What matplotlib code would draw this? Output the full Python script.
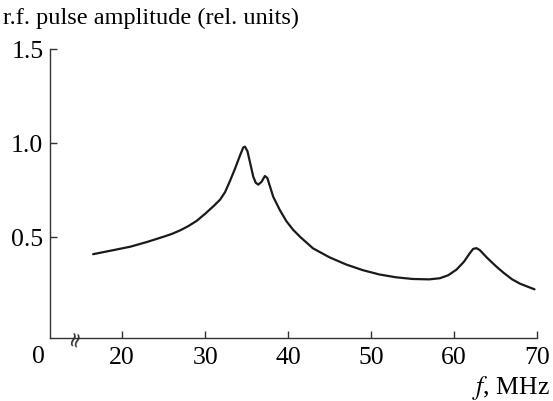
import matplotlib
matplotlib.use("Agg")
import matplotlib.pyplot as plt

# Pulse amplitude spectrum
freq_mhz = [16.5, 19, 21, 23, 25, 26, 27, 28, 29, 30, 31, 31.8, 32.4, 33, 33.6,
            34.2, 34.6, 34.8, 35.1, 35.4, 35.8, 36.1, 36.4, 36.8, 37.2, 37.5,
            38.2, 39, 39.8, 40.6, 41.5, 43, 45, 47, 49, 51, 53, 55, 57, 58.3,
            59.3, 60.3, 61.2, 61.9, 62.3, 62.7, 63.1, 64, 65, 66, 67, 68, 69.7]
amplitude = [0.41, 0.432, 0.45, 0.475, 0.503, 0.518, 0.537, 0.56, 0.588, 0.625,
             0.665, 0.70, 0.74, 0.8, 0.865, 0.935, 0.978, 0.982, 0.958, 0.9,
             0.822, 0.79, 0.78, 0.795, 0.826, 0.815, 0.716, 0.645, 0.585, 0.54,
             0.5, 0.441, 0.393, 0.355, 0.325, 0.302, 0.287, 0.278, 0.276,
             0.282, 0.298, 0.328, 0.37, 0.415, 0.438, 0.442, 0.432, 0.39,
             0.348, 0.31, 0.276, 0.252, 0.223]

x_ticks = [20, 30, 40, 50, 60, 70]
y_ticks = [0.5, 1.0, 1.5]
y_tick_labels = ["0.5", "1.0", "1.5"]

plt.rcParams["font.family"] = ["Liberation Serif", "DejaVu Serif"]
plt.rcParams["mathtext.fontset"] = "stix"

fig = plt.figure(figsize=(5.53, 4.01), dpi=100)
ax = fig.add_axes([50 / 553, 63 / 401, 487 / 553, 288.7 / 401])

ax.plot(freq_mhz, amplitude, color="#1a1a1a", lw=1.6, solid_capstyle="round")

ax.set_xlim(11.3, 70)
ax.set_ylim(-0.036, 1.5)
for side in ("top", "right"):
    ax.spines[side].set_visible(False)
for side in ("left", "bottom"):
    ax.spines[side].set_linewidth(1.0)
    ax.spines[side].set_color("#333333")

ax.set_xticks(x_ticks)
ax.set_xticklabels([str(v) for v in x_ticks])
ax.set_yticks(y_ticks)
ax.set_yticklabels(y_tick_labels)
ax.tick_params(direction="in", length=5, width=1.0, color="#333333",
               labelsize=18.5)
ax.tick_params(axis="y", pad=4.8)
ax.tick_params(axis="x", pad=6.5)

# origin label and axis break
ax.text(-12 / 487, -19 / 288.7, "0", transform=ax.transAxes, fontsize=18.5,
        ha="center", va="center")
ax.text(25 / 487, 0.0, "≈", transform=ax.transAxes, fontsize=15,
        ha="center", va="center", rotation=75, color="#333333",
        family=["DejaVu Sans", "DejaVu Serif"])

ax.text(1 + 13 / 487, -50 / 288.7, r"$\it{f}$, MHz", transform=ax.transAxes,
        fontsize=18.5, ha="right", va="center")
fig.text(3 / 553, 1 - 18 / 401, "r.f. pulse amplitude (rel. units)",
         fontsize=17.5, ha="left", va="center")

fig.savefig("out.png", dpi=100)
